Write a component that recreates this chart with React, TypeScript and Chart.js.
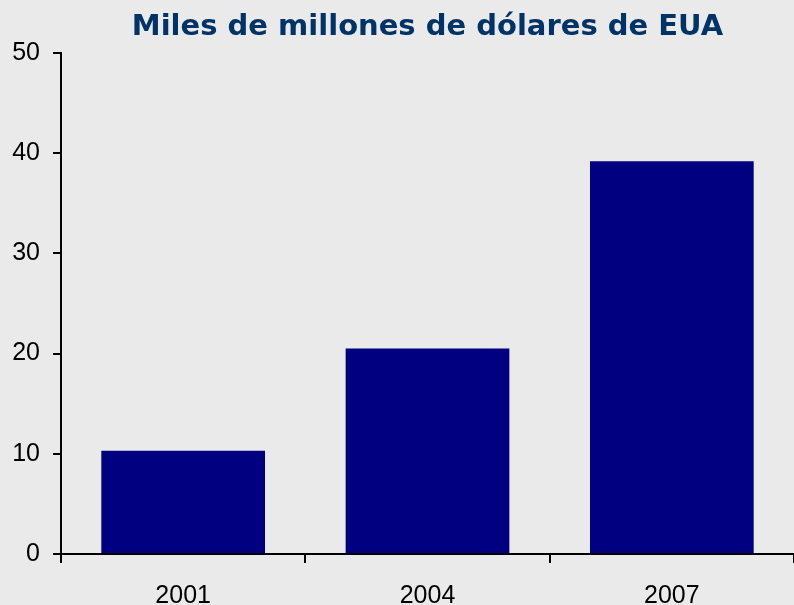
import React, { useEffect, useRef } from "react";
import { Chart, registerables } from "chart.js";

Chart.register(...registerables);

const categories = ["2001", "2004", "2007"];
const values = [10.3, 20.5, 39.2];
const yTicks = [0, 10, 20, 30, 40, 50];
const titleText = "Miles de millones de dólares de EUA";

const BG = "#EAEAEA";

const titlePlugin = {
  id: "customTitle",
  afterDraw(chart: any) {
    const { ctx, chartArea } = chart;
    ctx.save();
    ctx.font = "bold 29px 'DejaVu Sans'";
    ctx.fillStyle = "#003366";
    ctx.textAlign = "center";
    ctx.textBaseline = "alphabetic";
    ctx.fillText(titleText, (chartArea.left + chartArea.right) / 2, 35);
    ctx.restore();
  },
};

const bgPlugin = {
  id: "bg",
  beforeDraw(chart: any) {
    const { ctx, width, height } = chart;
    ctx.save();
    ctx.fillStyle = BG;
    ctx.fillRect(0, 0, width, height);
    ctx.restore();
  },
};

export default function App() {
  const ref = useRef<HTMLCanvasElement>(null);
  useEffect(() => {
    document.body.style.margin = "0";
    const chart = new Chart(ref.current!, {
      type: "bar",
      data: {
        labels: categories,
        datasets: [
          {
            data: values,
            backgroundColor: "#000080",
            borderWidth: 0,
            categoryPercentage: 1,
            barPercentage: 0.67,
          },
        ],
      },
      options: {
        responsive: false,
        animation: false,
        layout: { padding: { top: 53, right: 0, left: 0, bottom: 0 } },
        plugins: { legend: { display: false }, tooltip: { enabled: false }, title: { display: false } },
        scales: {
          x: {
            type: "category",
            offset: true,
            grid: { offset: true, drawOnChartArea: false, drawTicks: true, tickLength: 9, color: "#000", lineWidth: 2 },
            border: { color: "#000", width: 2 },
            ticks: { color: "#000", font: { family: "'Liberation Sans'", size: 25 }, padding: 18 },
            afterFit(scale: any) {
              scale.height = 51;
            },
          },
          y: {
            min: 0,
            max: 50,
            afterBuildTicks(scale: any) {
              scale.ticks = yTicks.map((v) => ({ value: v }));
            },
            grid: { drawOnChartArea: false, drawTicks: true, tickLength: 8, color: "#000", lineWidth: 2 },
            border: { color: "#000", width: 2 },
            ticks: { color: "#000", font: { family: "'Liberation Sans'", size: 25 }, padding: 13 },
            afterFit(scale: any) {
              scale.width = 61;
            },
          },
        },
      },
      plugins: [bgPlugin, titlePlugin],
    });
    return () => chart.destroy();
  }, []);
  return (
    <div style={{ position: "fixed", left: 0, top: 0, width: 794, height: 605, background: BG }}>
      <canvas ref={ref} width={794} height={605} style={{ width: 794, height: 605, display: "block" }} />
    </div>
  );
}
